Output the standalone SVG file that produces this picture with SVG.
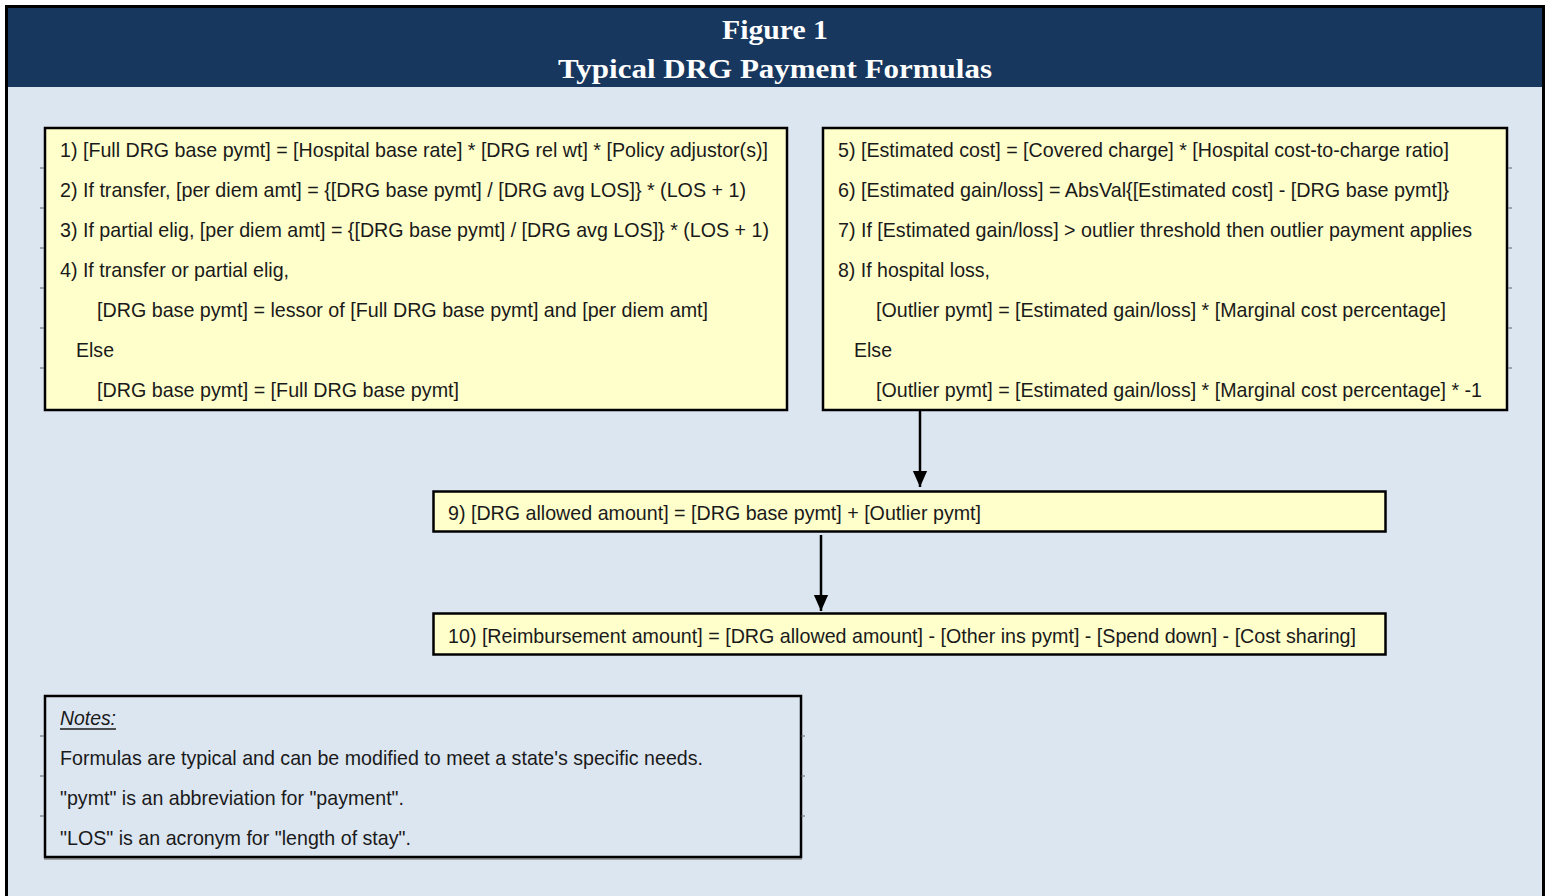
<svg xmlns="http://www.w3.org/2000/svg" width="1549" height="896" viewBox="0 0 1549 896">
<defs>
<style>
.t{font-family:"Liberation Sans Narrow","Liberation Sans",Arial,sans-serif;font-size:21px;fill:#1a1a1a;}
.h{font-family:"Liberation Serif","Times New Roman",serif;font-size:28px;font-weight:bold;fill:#ffffff;}
.box{fill:#FFFFCC;stroke:#000;stroke-width:2.5;}
.nbox{fill:#DCE6F1;stroke:#000;stroke-width:2.5;}
.tick{stroke:#666;stroke-width:1;}
.conn{stroke:#000;stroke-width:2.5;fill:none;}
</style>
<marker id="arr" markerWidth="16" markerHeight="18" refX="18" refY="8" orient="auto" markerUnits="userSpaceOnUse" viewBox="0 0 18 16">
<path d="M0,0 L18,8 L0,16 Z" fill="#000"/>
</marker>
</defs>
<rect x="0" y="0" width="1549" height="896" fill="#ffffff"/>
<rect x="6.5" y="6.5" width="1537" height="895" fill="#DCE6F1" stroke="#000" stroke-width="3"/>
<rect x="8" y="8" width="1534" height="79" fill="#17375E"/>
<g id="title">
<text class="h" x="775" y="39" text-anchor="middle" textLength="106" lengthAdjust="spacingAndGlyphs">Figure 1</text>
<text class="h" x="775" y="78" text-anchor="middle" textLength="434" lengthAdjust="spacingAndGlyphs">Typical DRG Payment Formulas</text>
</g>
<g id="box1">
<rect class="box" x="45" y="128" width="742" height="282"/>
<g class="tick"><line x1="40" y1="168" x2="44" y2="168"/><line x1="40" y1="208" x2="44" y2="208"/><line x1="40" y1="248" x2="44" y2="248"/><line x1="40" y1="288" x2="44" y2="288"/><line x1="40" y1="328" x2="44" y2="328"/><line x1="40" y1="368" x2="44" y2="368"/></g>
<text class="t" x="60" y="157" textLength="708" lengthAdjust="spacingAndGlyphs">1) [Full DRG base pymt] = [Hospital base rate] * [DRG rel wt] * [Policy adjustor(s)]</text>
<text class="t" x="60" y="197" textLength="686" lengthAdjust="spacingAndGlyphs">2) If transfer, [per diem amt] = {[DRG base pymt] / [DRG avg LOS]} * (LOS + 1)</text>
<text class="t" x="60" y="237" textLength="709" lengthAdjust="spacingAndGlyphs">3) If partial elig, [per diem amt] = {[DRG base pymt] / [DRG avg LOS]} * (LOS + 1)</text>
<text class="t" x="60" y="277" textLength="229" lengthAdjust="spacingAndGlyphs">4) If transfer or partial elig,</text>
<text class="t" x="97" y="317" textLength="611" lengthAdjust="spacingAndGlyphs">[DRG base pymt] = lessor of [Full DRG base pymt] and [per diem amt]</text>
<text class="t" x="76" y="357" textLength="38" lengthAdjust="spacingAndGlyphs">Else</text>
<text class="t" x="97" y="397" textLength="362" lengthAdjust="spacingAndGlyphs">[DRG base pymt] = [Full DRG base pymt]</text>
</g>
<g id="box2">
<rect class="box" x="823" y="128" width="684" height="282"/>
<g class="tick"><line x1="1508" y1="168" x2="1512" y2="168"/><line x1="1508" y1="208" x2="1512" y2="208"/><line x1="1508" y1="248" x2="1512" y2="248"/><line x1="1508" y1="288" x2="1512" y2="288"/><line x1="1508" y1="328" x2="1512" y2="328"/><line x1="1508" y1="368" x2="1512" y2="368"/></g>
<text class="t" x="838" y="157" textLength="611" lengthAdjust="spacingAndGlyphs">5) [Estimated cost] = [Covered charge] * [Hospital cost-to-charge ratio]</text>
<text class="t" x="838" y="197" textLength="611" lengthAdjust="spacingAndGlyphs">6) [Estimated gain/loss] = AbsVal{[Estimated cost] - [DRG base pymt]}</text>
<text class="t" x="838" y="237" textLength="634" lengthAdjust="spacingAndGlyphs">7) If [Estimated gain/loss] &gt; outlier threshold then outlier payment applies</text>
<text class="t" x="838" y="277" textLength="152" lengthAdjust="spacingAndGlyphs">8) If hospital loss,</text>
<text class="t" x="876" y="317" textLength="570" lengthAdjust="spacingAndGlyphs">[Outlier pymt] = [Estimated gain/loss] * [Marginal cost percentage]</text>
<text class="t" x="854" y="357" textLength="38" lengthAdjust="spacingAndGlyphs">Else</text>
<text class="t" x="876" y="397" textLength="606" lengthAdjust="spacingAndGlyphs">[Outlier pymt] = [Estimated gain/loss] * [Marginal cost percentage] * -1</text>
</g>
<g id="box9">
<rect class="box" x="433.5" y="491.5" width="952" height="40"/>
<text class="t" x="448" y="520" textLength="533" lengthAdjust="spacingAndGlyphs">9) [DRG allowed amount] = [DRG base pymt] + [Outlier pymt]</text>
</g>
<g id="box10">
<rect class="box" x="433.5" y="613.5" width="952" height="41"/>
<text class="t" x="448" y="643" textLength="908" lengthAdjust="spacingAndGlyphs">10) [Reimbursement amount] = [DRG allowed amount] - [Other ins pymt] - [Spend down] - [Cost sharing]</text>
</g>
<g id="notes">
<line x1="44" y1="859" x2="802" y2="859" stroke="#888" stroke-width="1.5"/>
<rect class="nbox" x="45" y="696" width="756" height="161"/>
<g class="tick"><line x1="801" y1="736" x2="805" y2="736"/><line x1="801" y1="776" x2="805" y2="776"/><line x1="801" y1="816" x2="805" y2="816"/><line x1="40" y1="736" x2="44" y2="736"/><line x1="40" y1="776" x2="44" y2="776"/><line x1="40" y1="816" x2="44" y2="816"/></g>
<text class="t" x="60" y="725" font-style="italic" textLength="56" lengthAdjust="spacingAndGlyphs">Notes:</text>
<line x1="60" y1="729" x2="116" y2="729" stroke="#1a1a1a" stroke-width="1.5"/>
<text class="t" x="60" y="765" textLength="643" lengthAdjust="spacingAndGlyphs">Formulas are typical and can be modified to meet a state's specific needs.</text>
<text class="t" x="60" y="805" textLength="344" lengthAdjust="spacingAndGlyphs">"pymt" is an abbreviation for "payment".</text>
<text class="t" x="60" y="845" textLength="351" lengthAdjust="spacingAndGlyphs">"LOS" is an acronym for "length of stay".</text>
</g>
<g id="connectors">
<line class="conn" x1="920" y1="411" x2="920" y2="487" marker-end="url(#arr)"/>
<line class="conn" x1="821" y1="535" x2="821" y2="611" marker-end="url(#arr)"/>
</g>
</svg>
